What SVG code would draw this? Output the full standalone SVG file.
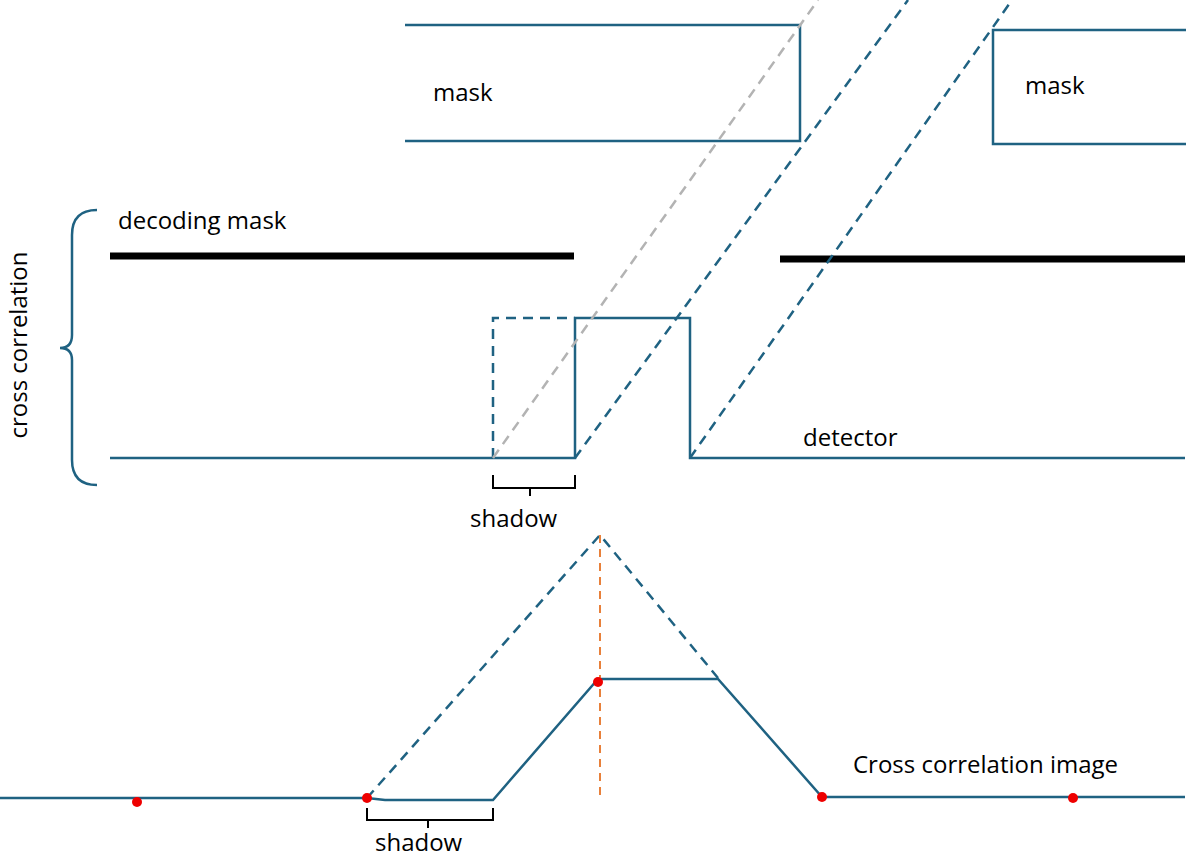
<svg xmlns="http://www.w3.org/2000/svg" width="1200" height="859" viewBox="0 0 1200 859">
<style>
.b{stroke:#1f6282;stroke-width:2.5;fill:none}
.d{stroke:#1f6282;stroke-width:2.5;fill:none;stroke-dasharray:10 7}
.g{stroke:#b3b3b3;stroke-width:2.5;fill:none;stroke-dasharray:10 7}
.k{stroke:#000;stroke-width:7}
.br{stroke:#000;stroke-width:2;fill:none}
text{font-family:"Open Sans","Liberation Sans",sans-serif;font-size:24px;fill:#000}
</style>
<rect width="1200" height="859" fill="#fff"/>
<g id="mask1"><path class="b" d="M405 25H800V141H405"/><text x="433" y="101">mask</text></g>
<g id="mask2"><path class="b" d="M1186 30H993V144H1186"/><text x="1025" y="94">mask</text></g>
<g id="decoding"><line class="k" x1="110" y1="256" x2="574" y2="256"/><line class="k" x1="780" y1="259" x2="1185" y2="259"/><text x="118" y="229">decoding mask</text></g>
<g id="detector"><path class="b" d="M110 458H575V318H690V458H1185"/><path class="d" d="M493 458V318H575"/><text x="803" y="446">detector</text></g>
<g id="connectors">
<line class="g" x1="493" y1="458" x2="818" y2="0"/>
<line class="d" x1="575" y1="458" x2="908" y2="0"/>
<line class="d" x1="690" y1="458" x2="1012" y2="0"/>
</g>
<g id="brace"><path class="b" d="M97 210Q72 210 72 235V335Q72 348 60 348Q72 348 72 360V460Q72 485 97 485"/>
<text transform="translate(27 345) rotate(-90)" text-anchor="middle">cross correlation</text></g>
<g id="shadow1"><path class="br" d="M493 475V488H530V496M530 488H575V475"/><text x="470" y="527">shadow</text></g>
<g id="image">
<path class="b" d="M0 798H367L385 800H493L598 679H718L822 797H1185"/>
<path class="d" d="M367 798L600 535L718 678"/>
<line x1="600" y1="535" x2="600" y2="800" stroke="#e8803a" stroke-width="2" stroke-dasharray="8 6"/>
<g fill="#e00"><circle cx="137" cy="802" r="5"/><circle cx="367" cy="798" r="5"/><circle cx="598" cy="682" r="5"/><circle cx="822" cy="797" r="5"/><circle cx="1073" cy="798" r="5"/></g>
<text x="853" y="773">Cross correlation image</text>
</g>
<g id="shadow2"><path class="br" d="M367 808V820H428V828M428 820H493V808"/><text x="375" y="851">shadow</text></g>
</svg>
